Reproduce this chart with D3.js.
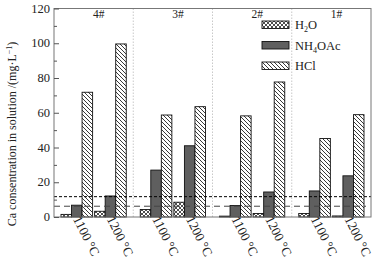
<!DOCTYPE html>
<html>
<head>
<meta charset="utf-8">
<script src="https://cdn.jsdelivr.net/npm/d3@7"></script>
<style>
body { margin: 0; background: #fff; }
text { font-family: "Liberation Serif", "DejaVu Serif", serif; }
</style>
</head>
<body>
<script>
var w = 381;
var h = 260;

// samples and temperatures
var groups = ["4#", "3#", "2#", "1#"];
var temps = ["1100 °C", "1200 °C"];
var series = ["H2O", "NH4OAc", "HCl"];

// values in order 4#-1100, 4#-1200, 3#-1100, 3#-1200, 2#-1100, 2#-1200, 1#-1100, 1#-1200
var h2o = [1.5, 3.3, 4.3, 8.5, 0.5, 2, 2, 0.6];
var nh4oac = [6.8, 12.1, 27, 41, 6.6, 14.4, 15, 23.7];
var hcl = [71.8, 99.6, 58.7, 63.5, 58.2, 77.7, 45.2, 58.9];

var yTicks = [0, 20, 40, 60, 80, 100, 120];
var refDotted = 11.7;
var refDashed = 6.2;

var pLeft = 54, pRight = 371, pTop = 8.5, pBottom = 217;

var svg = d3.select("body")
    .append("svg")
    .attr("width", w)
    .attr("height", h);

var defs = svg.append("defs");

// cross hatch for H2O
var pc = defs.append("pattern")
    .attr("id", "cross")
    .attr("patternUnits", "userSpaceOnUse")
    .attr("width", 4).attr("height", 4);
pc.append("rect").attr("width", 4).attr("height", 4).attr("fill", "#fff");
pc.append("path").attr("d", "M0,0L4,4M4,0L0,4").attr("stroke", "#222").attr("stroke-width", 0.8);

// diagonal hatch for HCl
var ph = defs.append("pattern")
    .attr("id", "hatch")
    .attr("patternUnits", "userSpaceOnUse")
    .attr("width", 4).attr("height", 4);
ph.append("rect").attr("width", 4).attr("height", 4).attr("fill", "#fff");
ph.append("path").attr("d", "M-1,-1L5,5M-1,3L1,5M3,-1L5,1").attr("stroke", "#222").attr("stroke-width", 0.9);

var fills = { "H2O": "url(#cross)", "NH4OAc": "#5f5f5f", "HCl": "url(#hatch)" };

var xGroup = d3.scaleBand()
    .domain(groups)
    .range([pLeft, pRight]);

var xTemp = d3.scaleBand()
    .domain(temps)
    .range([7, xGroup.bandwidth() - 7])
    .paddingInner(0.06);

var xSer = d3.scaleBand()
    .domain(series)
    .range([0, xTemp.bandwidth()]);

var yScale = d3.scaleLinear()
    .domain([0, 120])
    .range([pBottom, pTop]);

// build records
var rows = [];
groups.forEach(function(g, gi) {
    temps.forEach(function(t, ti) {
        var k = gi * 2 + ti;
        rows.push({ g: g, t: t, s: "H2O", v: h2o[k] });
        rows.push({ g: g, t: t, s: "NH4OAc", v: nh4oac[k] });
        rows.push({ g: g, t: t, s: "HCl", v: hcl[k] });
    });
});

// group separators
svg.selectAll("line.sep")
    .data(groups.slice(1))
    .enter()
    .append("line")
    .attr("class", "sep")
    .attr("x1", function(d) { return xGroup(d); })
    .attr("x2", function(d) { return xGroup(d); })
    .attr("y1", pTop)
    .attr("y2", pBottom)
    .attr("stroke", "#bbb")
    .attr("stroke-width", 0.8)
    .attr("stroke-dasharray", "1.5,1.5");

// bars
svg.selectAll("rect.bar")
    .data(rows)
    .enter()
    .append("rect")
    .attr("class", "bar")
    .attr("x", function(d) { return xGroup(d.g) + xTemp(d.t) + xSer(d.s); })
    .attr("y", function(d) { return yScale(d.v); })
    .attr("width", xSer.bandwidth())
    .attr("height", function(d) { return pBottom - yScale(d.v); })
    .attr("fill", function(d) { return fills[d.s]; })
    .attr("stroke", "#111")
    .attr("stroke-width", 0.9);

// reference lines
svg.append("line")
    .attr("x1", pLeft).attr("x2", pRight)
    .attr("y1", yScale(refDotted)).attr("y2", yScale(refDotted))
    .attr("stroke", "#000").attr("stroke-width", 1)
    .attr("stroke-dasharray", "3,2");
svg.append("line")
    .attr("x1", pLeft).attr("x2", pRight - 5)
    .attr("y1", yScale(refDashed)).attr("y2", yScale(refDashed))
    .attr("stroke", "#444").attr("stroke-width", 1)
    .attr("stroke-dasharray", "6,4");

// frame
svg.append("rect")
    .attr("x", pLeft).attr("y", pTop)
    .attr("width", pRight - pLeft).attr("height", pBottom - pTop)
    .attr("fill", "none")
    .attr("stroke", "#777")
    .attr("stroke-width", 1);

// y axis (ticks inward)
var yAxis = d3.axisRight(yScale)
    .tickValues(yTicks)
    .tickSize(5)
    .tickFormat("");
svg.append("g")
    .attr("transform", "translate(" + pLeft + ",0)")
    .call(yAxis)
    .call(function(g) {
        g.select(".domain").remove();
        g.selectAll("line").attr("stroke", "#555");
    });

var yMinor = d3.axisRight(yScale)
    .tickValues([10, 30, 50, 70, 90, 110])
    .tickSize(3)
    .tickFormat("");
svg.append("g")
    .attr("transform", "translate(" + pLeft + ",0)")
    .call(yMinor)
    .call(function(g) {
        g.select(".domain").remove();
        g.selectAll("line").attr("stroke", "#555");
    });

svg.selectAll("text.ytick")
    .data(yTicks)
    .enter()
    .append("text")
    .attr("class", "ytick")
    .attr("x", pLeft - 4)
    .attr("y", function(d) { return yScale(d) + 4; })
    .attr("text-anchor", "end")
    .attr("font-size", 12.5)
    .attr("fill", "#222")
    .text(function(d) { return d; });

// y title
var yt = svg.append("text")
    .attr("transform", "translate(16," + 134 + ") rotate(-90)")
    .attr("text-anchor", "middle")
    .attr("font-size", 12)
    .attr("fill", "#222");
yt.append("tspan").text("Ca consentration in solution /(mg·L");
yt.append("tspan").attr("dy", -4).attr("font-size", 8).text("−1");
yt.append("tspan").attr("dy", 4).text(")");

// group labels
svg.selectAll("text.glab")
    .data(groups)
    .enter()
    .append("text")
    .attr("class", "glab")
    .attr("x", function(d) { return xGroup(d) + xGroup.bandwidth() / 2 + 5; })
    .attr("y", 18)
    .attr("text-anchor", "middle")
    .attr("font-size", 11.5)
    .attr("fill", "#222")
    .text(function(d) { return d; });

// temperature labels
var tl = [];
groups.forEach(function(g) { temps.forEach(function(t) { tl.push({ g: g, t: t }); }); });
svg.selectAll("text.tlab")
    .data(tl)
    .enter()
    .append("text")
    .attr("class", "tlab")
    .attr("transform", function(d) {
        var x = xGroup(d.g) + xTemp(d.t) + xTemp.bandwidth() / 2 - 4;
        return "translate(" + x + ",219) rotate(63)";
    })
    .attr("font-size", 13)
    .attr("fill", "#222")
    .text(function(d) { return d.t; });

// legend
var legItems = [
    { s: "H2O", parts: [["H", 0], ["2", 1], ["O", 0]] },
    { s: "NH4OAc", parts: [["NH", 0], ["4", 1], ["OAc", 0]] },
    { s: "HCl", parts: [["HCl", 0]] }
];
var leg = svg.selectAll("g.leg")
    .data(legItems)
    .enter()
    .append("g")
    .attr("class", "leg")
    .attr("transform", function(d, i) { return "translate(262," + (21 + i * 20.5) + ")"; });
leg.append("rect")
    .attr("width", 27).attr("height", 7.5)
    .attr("fill", function(d) { return fills[d.s]; })
    .attr("stroke", "#111")
    .attr("stroke-width", 0.9);
leg.append("text")
    .attr("x", 33)
    .attr("y", 8)
    .attr("font-size", 12.5)
    .attr("fill", "#222")
    .each(function(d) {
        var t = d3.select(this);
        d.parts.forEach(function(p, i) {
            var prev = i > 0 ? d.parts[i - 1][1] : 0;
            t.append("tspan")
                .attr("dy", (p[1] - prev) * 3)
                .attr("font-size", p[1] ? 8 : 12.5)
                .text(p[0]);
        });
    });
</script>
</body>
</html>
